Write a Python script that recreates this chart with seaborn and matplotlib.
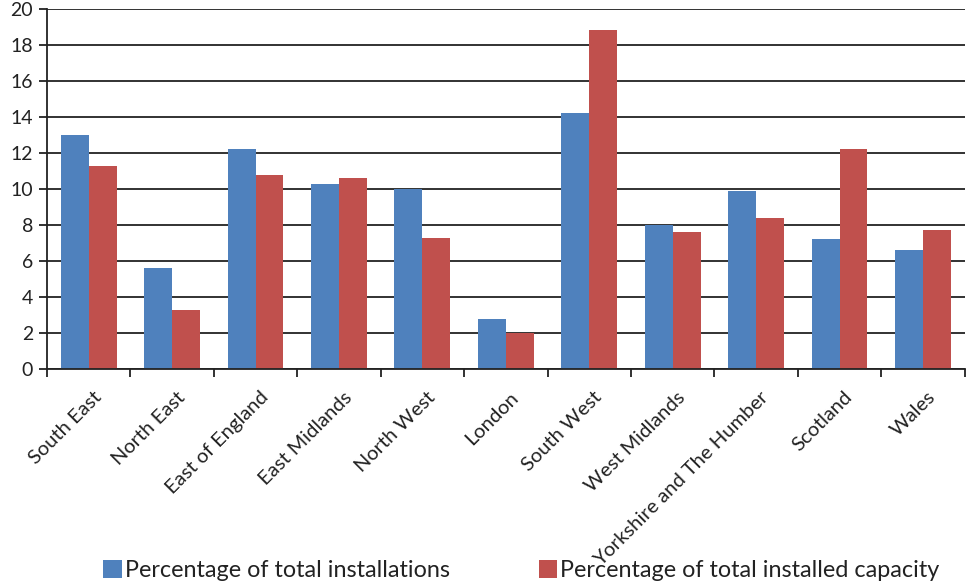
import numpy as np
import pandas as pd
import matplotlib
matplotlib.use("Agg")
import matplotlib.pyplot as plt
import matplotlib.transforms as mtransforms
import seaborn as sns
from matplotlib.patches import Patch

regions = ["South East", "North East", "East of England", "East Midlands",
           "North West", "London", "South West", "West Midlands",
           "Yorkshire and The Humber", "Scotland", "Wales"]
installations = [13.0, 5.6, 12.2, 10.3, 10.0, 2.8, 14.2, 8.0, 9.9, 7.2, 6.6]
capacity = [11.3, 3.3, 10.8, 10.6, 7.3, 2.0, 18.8, 7.6, 8.4, 12.2, 7.7]
series = ["Percentage of total installations",
          "Percentage of total installed capacity"]
colors = ["#4F81BD", "#C0504D"]

df = pd.DataFrame({"region": regions, series[0]: installations,
                   series[1]: capacity})
long = df.melt(id_vars="region", var_name="series", value_name="pct")

sns.set_style("white")
plt.rcParams["font.family"] = ["Lato", "DejaVu Sans"]

fig = plt.figure(figsize=(9.69, 5.85), dpi=100)
ax = fig.add_axes([0.0485, 0.369, 0.947, 0.616])

sns.barplot(data=long, x="region", y="pct", hue="series", order=regions,
            hue_order=series, palette=colors, width=0.67, saturation=1,
            ax=ax, legend=False, edgecolor="none")

ax.set_ylim(0, 20)
ax.set_xlim(-0.5, len(regions) - 0.5)
ax.set_yticks(range(0, 21, 2))
ax.yaxis.grid(True, color="#222222", linewidth=1.3)
ax.set_axisbelow(True)
ax.set_xlabel("")
ax.set_ylabel("")

for side in ["top", "right"]:
    ax.spines[side].set_visible(False)
ax.spines["left"].set_color("#222222")
ax.spines["left"].set_linewidth(1.3)
ax.spines["bottom"].set_color("#222222")
ax.spines["bottom"].set_linewidth(1.3)

ax.tick_params(axis="y", length=6, width=1.3, color="#222222", pad=4,
               labelsize=14, labelcolor="#222222", left=True)
ax.set_xticks(np.arange(len(regions)))
ax.set_xticklabels(regions, rotation=45, ha="right", va="top",
                   rotation_mode="anchor", fontsize=14.5, color="#222222")
ax.tick_params(axis="x", which="major", length=0, pad=14)
shift = mtransforms.ScaledTranslation(4 / 100, 0, fig.dpi_scale_trans)
for lbl in ax.get_xticklabels():
    lbl.set_transform(lbl.get_transform() + shift)
ax.set_xticks(np.arange(len(regions) + 1) - 0.5, minor=True)
ax.tick_params(axis="x", which="minor", length=6, width=1.3,
               color="#222222", bottom=True)

handles = [Patch(facecolor=c, edgecolor="none") for c in colors]
fig.legend(handles, series, loc="center", bbox_to_anchor=(0.538, 0.024),
           ncol=2, frameon=False, fontsize=16.8, handlelength=0.8,
           handleheight=0.8, handletextpad=0.13, columnspacing=3.8,
           labelcolor="#222222")

fig.savefig("out.png", dpi=100)
